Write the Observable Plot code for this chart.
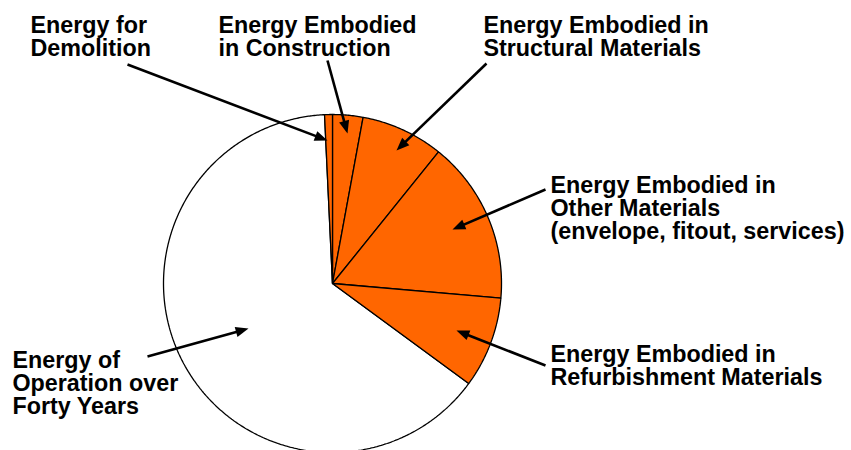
<!DOCTYPE html>
<html><head><meta charset="utf-8">
<script src="https://cdn.jsdelivr.net/npm/d3@7"></script>
<script src="https://cdn.jsdelivr.net/npm/@observablehq/plot@0.6"></script>
<style>html,body{margin:0;padding:0;background:#fff;overflow:hidden}</style>
</head><body><div id="chart"></div>
<script>
// ---- data ----
const categories = [
  "Energy Embodied in Construction",
  "Energy Embodied in Structural Materials",
  "Energy Embodied in Other Materials",
  "Energy Embodied in Refurbishment Materials",
  "Energy of Operation over Forty Years",
  "Energy for Demolition"
];
const values = [2.9, 7.9, 15.6, 8.7, 64.2, 0.75]; // percent of life-cycle energy
const sliceColors = ["#ff6600", "#ff6600", "#ff6600", "#ff6600", "#ffffff", "#ff6600"];
const labelTexts = [
  "Energy Embodied\nin Construction",
  "Energy Embodied in\nStructural Materials",
  "Energy Embodied in\nOther Materials\n(envelope, fitout, services)",
  "Energy Embodied in\nRefurbishment Materials",
  "Energy of\nOperation over\nForty Years",
  "Energy for\nDemolition"
];

// ---- layout (pixels) ----
const W = 851, H = 450;
const pieLayout = {cx: 332, cy: 283, r: 169};
const fontSize = 23.3, lineHeight = 1.0;
const labelPos = [[218, 32], [483, 32], [550, 192], [550, 361], [12, 367], [30, 32]]; // left x, first baseline
const arrowPos = [[327, 60, 347, 133], [486, 63, 396, 150], [545, 189, 452, 229], [545, 365, 456, 330], [147, 356, 248, 328], [127, 64, 327, 140]];

// ---- geometry from data ----
const arcs = d3.pie().sort(null).startAngle(0).endAngle(2 * Math.PI)(values);
const slicePts = [];
const order = [4, 0, 1, 2, 3, 5];
order.forEach(i => {
  const a = arcs[i];
  const {cx, cy, r} = pieLayout;
  slicePts.push({k: categories[i], x: cx, y: cy, fill: sliceColors[i]});
  const n = Math.max(2, Math.ceil((a.endAngle - a.startAngle) / (Math.PI / 360)));
  for (let j = 0; j <= n; j++) {
    const t = a.startAngle + (a.endAngle - a.startAngle) * j / n;
    slicePts.push({k: categories[i], x: cx + r * Math.sin(t), y: cy - r * Math.cos(t), fill: sliceColors[i]});
  }
});

const labels = labelTexts.map((t, i) => ({
  text: t, x: labelPos[i][0], y: labelPos[i][1] - 0.71 * lineHeight * fontSize
}));

const arrows = arrowPos.map(([x1, y1, x2, y2]) => {
  const dx = x2 - x1, dy = y2 - y1, L = Math.hypot(dx, dy);
  return {x1, y1, x2, y2, xe: x2 - dx / L * 8, ye: y2 - dy / L * 8, rot: Math.atan2(dx, -dy) * 180 / Math.PI};
});

const arrowHead = {
  draw(ctx, size) {
    const L = Math.sqrt(size) * 1.45, w = L * 0.4;
    ctx.moveTo(0, 0); ctx.lineTo(-w, L); ctx.lineTo(w, L); ctx.closePath();
  }
};

const chart = Plot.plot({
  width: W, height: H, margin: 0,
  x: {domain: [0, W], range: [0, W], axis: null},
  y: {domain: [0, H], range: [0, H], axis: null},
  color: {type: "identity"},
  style: {background: "white", overflow: "visible"},
  marks: [
    Plot.line(slicePts, {x: "x", y: "y", z: "k", fill: "fill", stroke: "black", strokeWidth: 1.3, curve: "linear-closed", strokeLinejoin: "miter"}),
    Plot.link(arrows, {x1: "x1", y1: "y1", x2: "xe", y2: "ye", stroke: "black", strokeWidth: 2.6}),
    Plot.dot(arrows, {x: "x2", y: "y2", rotate: "rot", symbol: arrowHead, r: 5, fill: "black", stroke: "none"}),
    Plot.text(labels, {x: "x", y: "y", text: "text", textAnchor: "start", lineAnchor: "top", lineHeight,
      fontSize, fontWeight: "bold", fontFamily: "Liberation Sans, Arial, sans-serif", fill: "black"})
  ]
});
document.getElementById("chart").appendChild(chart);
</script>
</body></html>
